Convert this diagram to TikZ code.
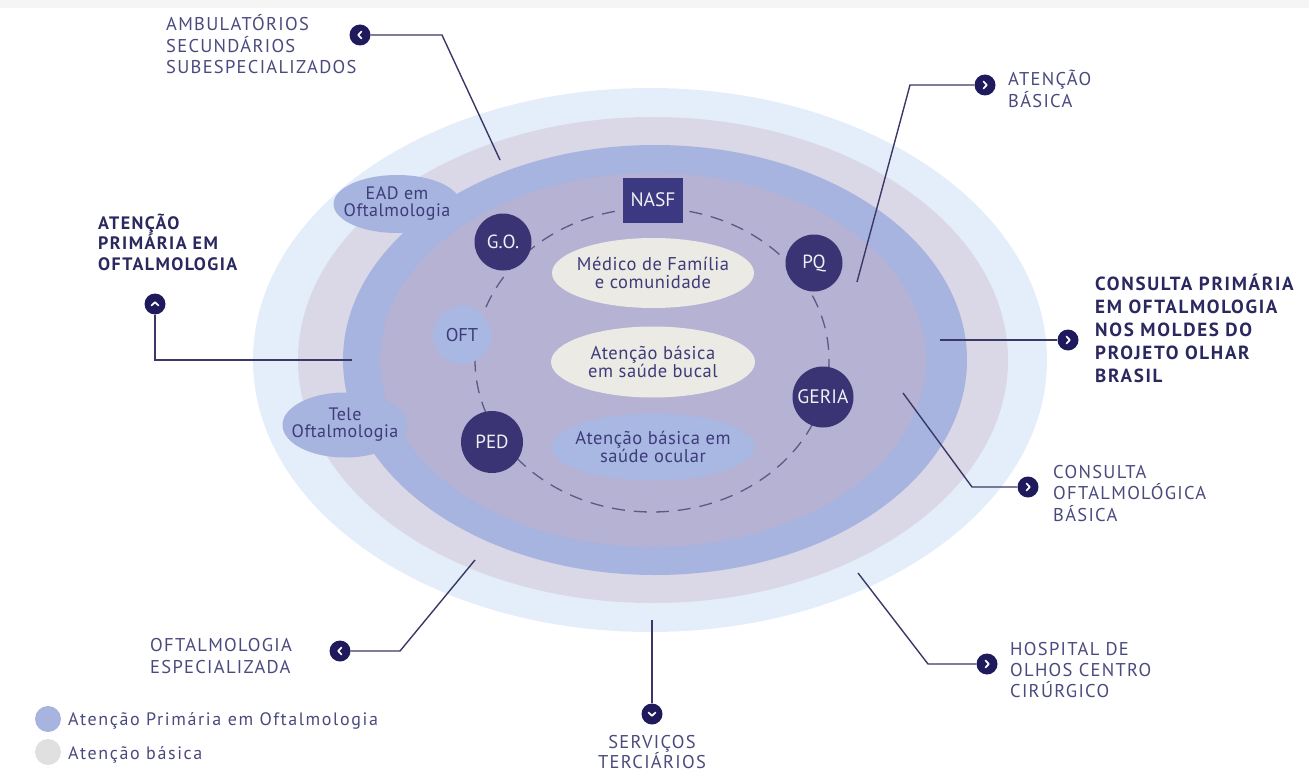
\documentclass[tikz,border=0pt]{standalone}
\usepackage{fontspec}
\setmainfont{PT Sans}
\newfontfamily\capsfont[LetterSpace=7]{PT Sans}
\newfontfamily\legfont[LetterSpace=9]{PT Sans}
\newfontfamily\bodyfont[LetterSpace=3]{PT Sans}
\newfontfamily\boldleft[LetterSpace=8]{PT Sans Bold}
\newfontfamily\boldright[LetterSpace=9]{PT Sans Bold}
\usetikzlibrary{shapes.geometric}
\definecolor{outerc}{HTML}{E3EEFA}
\definecolor{lavc}{HTML}{DAD7E7}
\definecolor{bluec}{HTML}{A7B4DF}
\definecolor{innerc}{HTML}{B5B2D3}
\definecolor{navy}{HTML}{3A3474}
\definecolor{nasfc}{HTML}{3B3982}
\definecolor{creamc}{HTML}{ECEAE5}
\definecolor{ocularc}{HTML}{A9B8E3}
\definecolor{labc}{HTML}{4A4A7E}
\definecolor{boldc}{HTML}{2A285E}
\definecolor{dotc}{HTML}{1E1A5C}
\definecolor{linec}{HTML}{3A3866}
\definecolor{legc}{HTML}{E0E0E0}
\definecolor{intext}{HTML}{3D3B78}
\definecolor{dashc}{HTML}{5C5A84}
\newcommand{\chevR}[1]{\draw[chev] ([shift={(-1.6,-3.6)}]#1.center) -- ++(3.4,3.6) -- ++(-3.4,3.6);}
\newcommand{\chevL}[1]{\draw[chev] ([shift={(1.6,-3.6)}]#1.center) -- ++(-3.4,3.6) -- ++(3.4,3.6);}
\newcommand{\chevU}[1]{\draw[chev] ([shift={(-3.6,1.6)}]#1.center) -- ++(3.6,-3.4) -- ++(3.6,3.4);}
\newcommand{\chevD}[1]{\draw[chev] ([shift={(-3.6,-1.6)}]#1.center) -- ++(3.6,3.4) -- ++(3.6,-3.4);}
\tikzset{
  conn/.style={draw=linec, line width=1.4},
  dotnode/.style={circle, fill=dotc, minimum size=21, inner sep=0},
  chev/.style={draw=white, line width=1.7, line cap=round, line join=round},
  navycirc/.style={circle, fill=navy, text=white!92!navy, inner sep=0, font=\fontsize{19}{19}\selectfont},
  inell/.style={ellipse, inner xsep=-20pt, inner ysep=0pt, align=center, text=intext, font=\bodyfont\fontsize{18.5}{17.5}\selectfont},
  blob/.style={ellipse, fill=bluec, inner xsep=-14pt, inner ysep=0pt, align=center, text=intext, font=\bodyfont\fontsize{18}{17}\selectfont},
  lab/.style={text=labc, align=left, inner sep=0, font=\capsfont\fontsize{18.5}{21.5}\selectfont},
  blab/.style={text=boldc, align=left, inner sep=0},
}
\begin{document}
\begin{tikzpicture}[x=1pt,y=-1pt]
\useasboundingbox (0,0) rectangle (1309,773);
\fill[black!4] (0,0) rectangle (1309,8);
% rings
\fill[outerc] (650,360) ellipse [x radius=397, y radius=272];
\fill[lavc] (653,360) ellipse [x radius=355, y radius=243];
\fill[bluec] (655,360) ellipse [x radius=312, y radius=215];
\fill[innerc] (653,360) ellipse [x radius=273, y radius=187];
% side blobs
\node[blob, minimum width=127, minimum height=58] (ead) at (397,204) {EAD em\\Oftalmologia};
\node[blob, minimum width=125, minimum height=65] (tele) at (345,425) {Tele\\Oftalmologia};
% dashed ring
\draw[dashc, line width=1.3, dash pattern=on 13pt off 9pt] (652,360) ellipse [x radius=177, y radius=152];
% inner ellipses
\node[inell, fill=creamc, minimum width=202, minimum height=70] (med) at (653,273) {Médico de Família\\e comunidade};
\node[inell, fill=creamc, minimum width=204, minimum height=71] (buc) at (653,362) {Atenção básica\\em saúde bucal};
\node[inell, fill=ocularc, minimum width=203, minimum height=67] (ocu) at (653,447) {Atenção básica em\\saúde ocular};
% ring members
\node[rectangle, fill=nasfc, minimum width=60, minimum height=45, inner sep=0, text=white!92!navy, font=\fontsize{19.5}{19.5}\selectfont] (nasf) at (653,200) {NASF};
\node[navycirc, minimum size=57] (go) at (503,242) {G.O.};
\node[navycirc, minimum size=57] (pq) at (814,263) {PQ};
\node[navycirc, minimum size=61, font=\fontsize{19.5}{19.5}\selectfont] (geria) at (823,397) {GERIA};
\node[navycirc, minimum size=62] (ped) at (492,442) {PED};
\node[circle, fill=ocularc, minimum size=58, inner sep=0, text=intext, font=\fontsize{18.5}{18.5}\selectfont] (oft) at (462,335) {OFT};
% labels and dots
\node[lab, anchor=base west] (lamb) at (166,74) {AMBULATÓRIOS\\SECUNDÁRIOS\\SUBESPECIALIZADOS};
\node[dotnode] (damb) at (360,35) {};
\coordinate (bamb) at (442,35);
\coordinate (eamb) at (500,160);
\draw[conn] (damb) -- (bamb) -- (eamb);
\chevL{damb}

\node[lab, anchor=base west] (latb) at (1008,107.5) {ATENÇÃO\\BÁSICA};
\node[dotnode] (datb) at (985,85) {};
\coordinate (batb) at (910,85);
\coordinate (eatb) at (857,282);
\draw[conn] (datb) -- (batb) -- (eatb);
\chevR{datb}

\node[blab, anchor=base west, font=\boldleft\fontsize{18}{20.5}\selectfont] (lapo) at (98,270) {ATENÇÃO\\PRIMÁRIA EM\\OFTALMOLOGIA};
\node[dotnode] (dapo) at (155,304) {};
\coordinate (bapo) at (155,360);
\coordinate (eapo) at (352,360);
\draw[conn] (dapo) -- (bapo) -- (eapo);
\chevU{dapo}

\node[blab, anchor=base west, font=\boldright\fontsize{19}{23}\selectfont] (lcpo) at (1095,382) {CONSULTA PRIMÁRIA\\EM OFTALMOLOGIA\\NOS MOLDES DO\\PROJETO OLHAR\\BRASIL};
\node[dotnode] (dcpo) at (1068,340) {};
\coordinate (ecpo) at (940,340);
\draw[conn] (dcpo) -- (ecpo);
\chevR{dcpo}

\node[lab, anchor=base west, font=\capsfont\fontsize{18.5}{21.5}\selectfont] (lcob) at (1053,521) {CONSULTA\\OFTALMOLÓGICA\\BÁSICA};
\node[dotnode] (dcob) at (1028,487) {};
\coordinate (bcob) at (972,487);
\coordinate (ecob) at (903,393);
\draw[conn] (dcob) -- (bcob) -- (ecob);
\chevR{dcob}

\node[lab, anchor=base west, font=\capsfont\fontsize{18.5}{21}\selectfont] (lhos) at (1010,697) {HOSPITAL DE\\OLHOS CENTRO\\CIRÚRGICO};
\node[dotnode] (dhos) at (987,664) {};
\coordinate (bhos) at (928,664);
\coordinate (ehos) at (858,573);
\draw[conn] (dhos) -- (bhos) -- (ehos);
\chevR{dhos}

\node[lab, anchor=base, align=center, font=\capsfont\fontsize{18.5}{20.5}\selectfont] (lser) at (652,768.5) {SERVIÇOS\\TERCIÁRIOS};
\node[dotnode] (dser) at (652,714) {};
\coordinate (eser) at (652,620);
\draw[conn] (dser) -- (eser);
\chevD{dser}

\node[lab, anchor=base west, font=\capsfont\fontsize{18.5}{22}\selectfont] (loes) at (150,673) {OFTALMOLOGIA\\ESPECIALIZADA};
\node[dotnode] (does) at (340,651) {};
\coordinate (boes) at (400,651);
\coordinate (eoes) at (475,560);
\draw[conn] (does) -- (boes) -- (eoes);
\chevL{does}

% legend
\node[circle, fill=bluec, minimum size=26, inner sep=0] (leg1) at (48,719) {};
\node[circle, fill=legc, minimum size=26, inner sep=0] (leg2) at (48,752) {};
\node[anchor=base west, inner sep=0, text=labc, font=\legfont\fontsize{18}{18}\selectfont] (legt1) at (68,725) {Atenção Primária em Oftalmologia};
\node[anchor=base west, inner sep=0, text=labc, font=\legfont\fontsize{18}{18}\selectfont] (legt2) at (68,759) {Atenção básica};
\end{tikzpicture}
\end{document}
